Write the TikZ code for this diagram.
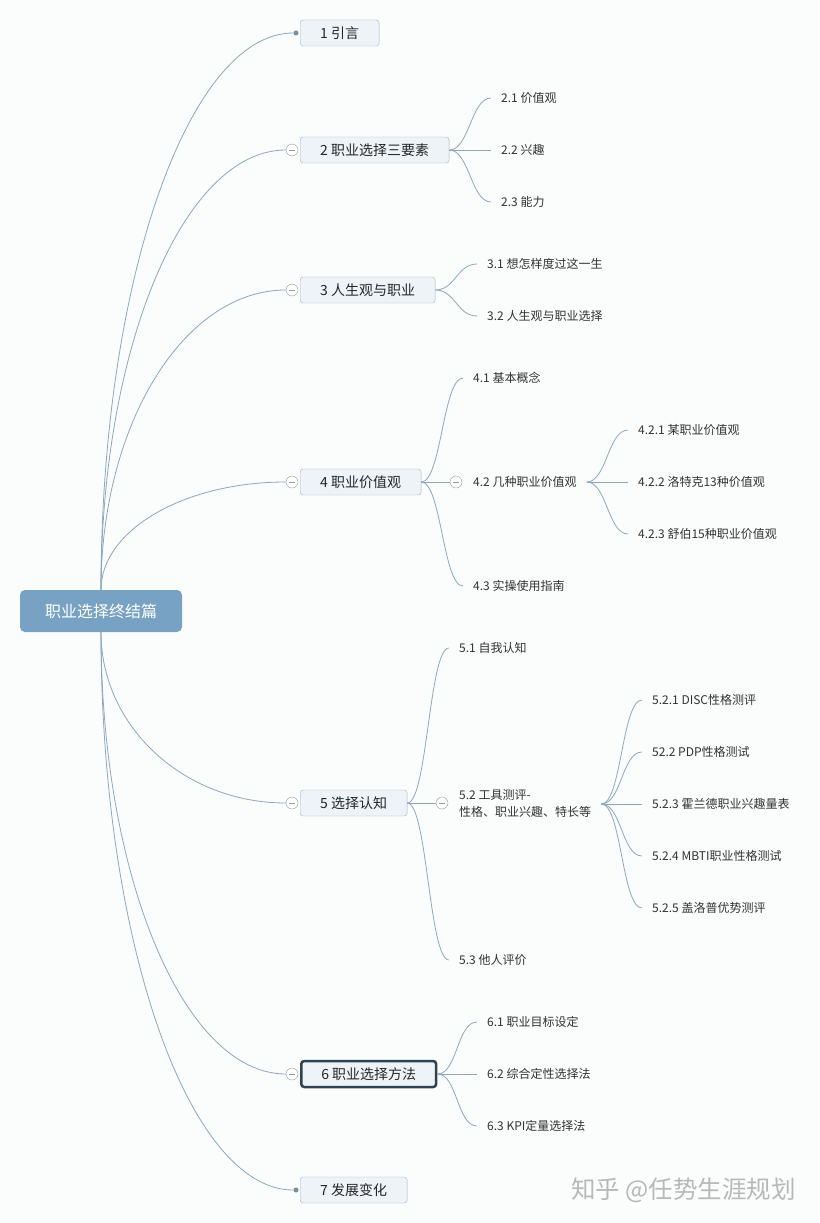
\documentclass[tikz,border=0pt]{standalone}
\usepackage{fontspec}
\setmainfont{Noto Sans CJK SC}
\usepackage{tikz}
\usetikzlibrary{calc}

\definecolor{rootblue}{HTML}{77A2C3}
\definecolor{linkblue}{HTML}{8DA8BF}
\definecolor{boxfill}{HTML}{EEF3F7}
\definecolor{boxline}{HTML}{A2B5C5}
\definecolor{darkline}{HTML}{2F4352}
\definecolor{foldgray}{HTML}{9A9A9A}
\definecolor{paper}{HTML}{FBFCFC}

\begin{document}
\begin{tikzpicture}[x=1pt,y=-1pt,
    root/.style = {fill=rootblue, rounded corners=5pt, text=white, font=\fontsize{16}{18}\selectfont, minimum width=162pt, minimum height=42pt, inner sep=0pt},
    topic/.style = {draw=boxline, fill=boxfill, rounded corners=3pt, anchor=west, minimum height=26pt, inner xsep=20pt, inner ysep=0pt, text=black!85, font=\fontsize{14}{16}\selectfont},
    sub/.style = {anchor=west, inner xsep=10pt, inner ysep=2pt, text=black!80, font=\fontsize{12}{17}\selectfont, align=left},
    fold/.style = {circle, draw=foldgray, fill=white, minimum size=12pt, inner sep=0pt, path picture={\draw[foldgray] ([xshift=3pt]path picture bounding box.west) -- ([xshift=-3pt]path picture bounding box.east);}},
    dot/.style = {circle, fill=linkblue!85!black, minimum size=5pt, inner sep=0pt},
    link/.style = {draw=linkblue, line width=0.8pt}]
    \fill[paper] (0,0) rectangle (819,1223);
    \useasboundingbox (0,0) rectangle (819,1223);

    % root and main topics
    \node[root] (0) at (101,611) {职业选择终结篇};
    \node[topic] (1) at (300,33) {1 引言};
    \node[topic] (2) at (300,150) {2 职业选择三要素};
    \node[topic] (3) at (300,290) {3 人生观与职业};
    \node[topic] (4) at (300,482) {4 职业价值观};
    \node[topic] (5) at (300,803) {5 选择认知};
    \node[topic, draw=darkline, line width=2.5pt] (6) at (300,1074) {6 职业选择方法};
    \node[topic] (7) at (300,1190) {7 发展变化};
    \node[dot] (d1) at (296,33) {};
    \node[fold] (f2) at (292,150) {};
    \node[fold] (f3) at (292,290) {};
    \node[fold] (f4) at (292,482) {};
    \node[fold] (f5) at (292,803) {};
    \node[fold] (f6) at (292,1074) {};
    \node[dot] (d7) at (296,1190) {};

    % subtopics
    \node[sub] (21) at (491,98) {2.1 价值观};
    \node[sub] (22) at (491,150) {2.2 兴趣};
    \node[sub] (23) at (491,202) {2.3 能力};
    \node[sub] (31) at (477,264) {3.1 想怎样度过这一生};
    \node[sub] (32) at (477,316) {3.2 人生观与职业选择};
    \node[sub] (41) at (463,378) {4.1 基本概念};
    \node[fold] (f42) at (456,482) {};
    \node[sub] (42) at (463,482) {4.2 几种职业价值观};
    \node[sub] (43) at (463,586) {4.3 实操使用指南};
    \node[sub] (421) at (628,430) {4.2.1 某职业价值观};
    \node[sub] (422) at (628,482) {4.2.2 洛特克13种价值观};
    \node[sub] (423) at (628,534) {4.2.3 舒伯15种职业价值观};
    \node[sub] (51) at (449,648) {5.1 自我认知};
    \node[fold] (f52) at (442,803) {};
    \node[sub] (52) at (449,804) {5.2 工具测评-\\性格、职业兴趣、特长等};
    \node[sub] (53) at (449,960) {5.3 他人评价};
    \node[sub] (521) at (642,700) {5.2.1 DISC性格测评};
    \node[sub] (522) at (642,752) {52.2 PDP性格测试};
    \node[sub] (523) at (642,804) {5.2.3 霍兰德职业兴趣量表};
    \node[sub] (524) at (642,856) {5.2.4 MBTI职业性格测试};
    \node[sub] (525) at (642,908) {5.2.5 盖洛普优势测评};
    \node[sub] (61) at (477,1022) {6.1 职业目标设定};
    \node[sub] (62) at (477,1074) {6.2 综合定性选择法};
    \node[sub] (63) at (477,1126) {6.3 KPI定量选择法};

    % root links, quarter ellipses
    \foreach \t in {d1,f2.west,f3.west,f4.west}
        \draw[link] (0.north) .. controls ($(0.north)!0.552!(0.north |- \t)$) and ($(\t)!0.552!(0.north |- \t)$) .. (\t);
    \foreach \t in {f5.west,f6.west,d7}
        \draw[link] (0.south) .. controls ($(0.south)!0.552!(0.south |- \t)$) and ($(\t)!0.552!(0.south |- \t)$) .. (\t);

    % topic links
    \draw[link] (2.east) .. controls +(20,0) and +(-20,0) .. (21.west);
    \draw[link] (2.east) -- (22.west);
    \draw[link] (2.east) .. controls +(20,0) and +(-20,0) .. (23.west);
    \draw[link] (3.east) .. controls +(20,0) and +(-20,0) .. (31.west);
    \draw[link] (3.east) .. controls +(20,0) and +(-20,0) .. (32.west);
    \draw[link] (4.east) .. controls +(20,0) and +(-20,0) .. (41.west);
    \draw[link] (4.east) -- (f42.west);
    \draw[link] (4.east) .. controls +(20,0) and +(-20,0) .. (43.west);
    \draw[link] (42.east) .. controls +(20,0) and +(-20,0) .. (421.west);
    \draw[link] (42.east) -- (422.west);
    \draw[link] (42.east) .. controls +(20,0) and +(-20,0) .. (423.west);
    \draw[link] (5.east) .. controls +(20,0) and +(-20,0) .. (51.west);
    \draw[link] (5.east) -- (f52.west);
    \draw[link] (5.east) .. controls +(20,0) and +(-20,0) .. (53.west);
    \foreach \n in {521,522,524,525}
        \draw[link] (52.east) .. controls +(20,0) and +(-20,0) .. (\n.west);
    \draw[link] (52.east) -- (523.west);
    \draw[link] (6.east) .. controls +(20,0) and +(-20,0) .. (61.west);
    \draw[link] (6.east) -- (62.west);
    \draw[link] (6.east) .. controls +(20,0) and +(-20,0) .. (63.west);

    % watermark
    \node[anchor=west, inner sep=0pt, text=black!28, font=\fontsize{24.5}{26}\selectfont] (wm) at (571,1190) {知乎 @任势生涯规划};
\end{tikzpicture}
\end{document}
